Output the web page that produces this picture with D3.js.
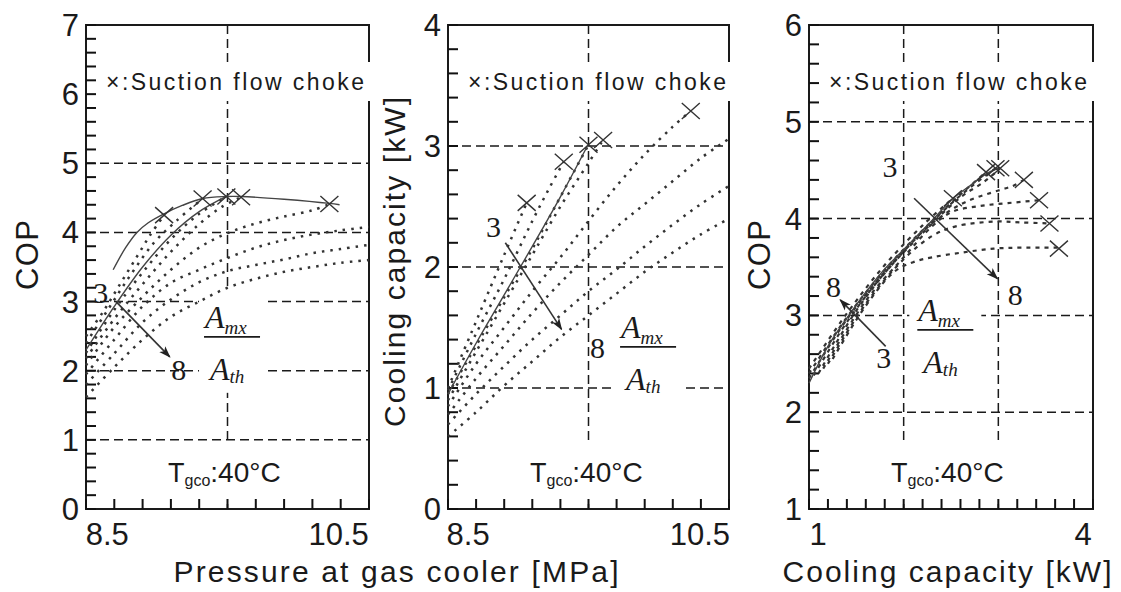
<!DOCTYPE html>
<html><head><meta charset="utf-8">
<script src="https://cdn.jsdelivr.net/npm/d3@7"></script>
<style>body{margin:0;background:#fff}</style>
</head><body><svg id="c" width="1121" height="592"></svg>
<script>
// ---------------- DATA ----------------
// Panel 1: COP vs gas-cooler pressure [MPa], eight area-ratio curves (3 -> 8)
const p1_c1 = [[8.25,2.5],[8.4,2.85],[8.55,3.25],[8.7,3.65],[8.82,3.97],[8.94,4.25]];
const p1_c2 = [[8.25,2.4],[8.45,2.9],[8.65,3.4],[8.85,3.85],[9.05,4.17],[9.28,4.49]];
const p1_c3 = [[8.25,2.26],[8.5,2.88],[8.75,3.42],[9.0,3.9],[9.25,4.27],[9.49,4.52]];
const p1_c4 = [[8.25,2.18],[8.5,2.75],[8.75,3.25],[9.0,3.72],[9.25,4.12],[9.45,4.37],[9.62,4.51]];
const p1_c5 = [[8.25,2.08],[8.5,2.63],[8.75,3.07],[9.0,3.46],[9.25,3.78],[9.5,3.99],[9.75,4.13],[10.0,4.23],[10.25,4.32],[10.4,4.41]];
const p1_c6 = [[8.25,1.95],[8.5,2.45],[8.75,2.93],[9.0,3.27],[9.25,3.46],[9.5,3.63],[9.75,3.78],[10.0,3.89],[10.25,3.97],[10.5,4.03],[10.75,4.08]];
const p1_c7 = [[8.25,1.8],[8.5,2.25],[8.75,2.7],[9.0,3.03],[9.25,3.28],[9.5,3.44],[9.75,3.53],[10.0,3.61],[10.25,3.7],[10.5,3.76],[10.75,3.82]];
const p1_c8 = [[8.25,1.62],[8.5,2.05],[8.75,2.45],[9.0,2.78],[9.25,3.0],[9.5,3.2],[9.75,3.33],[10.0,3.43],[10.25,3.5],[10.5,3.56],[10.75,3.6]];
const p1_chokeLine = [[8.49,3.46],[8.6,3.78],[8.7,4.0],[8.8,4.14],[8.94,4.27],[9.1,4.39],[9.28,4.49],[9.49,4.52],[9.62,4.52],[10.0,4.48],[10.4,4.42],[10.49,4.4]];
const p1_solid = [[8.25,2.3],[8.5,2.93],[8.75,3.5],[9.0,3.96],[9.25,4.3],[9.49,4.52]];
const p1_choke = [[8.94,4.25],[9.28,4.49],[9.49,4.52],[9.62,4.51],[10.4,4.41]];

// Panel 2: cooling capacity [kW] vs gas-cooler pressure [MPa]
const p2_c1 = [[8.25,1.0],[8.5,1.55],[8.75,2.1],[8.95,2.53]];
const p2_c2 = [[8.25,0.98],[8.5,1.45],[8.75,1.9],[9.0,2.38],[9.15,2.65],[9.28,2.87]];
const p2_c3 = [[8.25,0.95],[8.5,1.35],[8.75,1.75],[9.0,2.15],[9.25,2.58],[9.5,3.01]];
const p2_c4 = [[8.25,0.9],[8.5,1.3],[8.75,1.7],[9.0,2.1],[9.25,2.5],[9.5,2.86],[9.63,3.05]];
const p2_c5 = [[8.25,0.85],[8.5,1.2],[8.75,1.5],[9.0,1.8],[9.25,2.08],[9.5,2.38],[9.75,2.67],[10.0,2.93],[10.25,3.16],[10.41,3.29]];
const p2_c6 = [[8.25,0.78],[8.5,1.08],[8.75,1.35],[9.0,1.62],[9.25,1.87],[9.5,2.1],[9.75,2.33],[10.0,2.52],[10.25,2.71],[10.5,2.9],[10.75,3.06]];
const p2_c7 = [[8.25,0.7],[8.5,0.95],[8.75,1.18],[9.0,1.4],[9.25,1.6],[9.5,1.8],[9.75,1.98],[10.0,2.17],[10.25,2.35],[10.5,2.52],[10.75,2.67]];
const p2_c8 = [[8.25,0.6],[8.5,0.8],[8.75,1.02],[9.0,1.22],[9.25,1.42],[9.5,1.6],[9.75,1.78],[10.0,1.96],[10.25,2.12],[10.5,2.27],[10.75,2.4]];
const p2_solid = [[8.25,0.95],[8.5,1.37],[8.75,1.77],[9.0,2.17],[9.25,2.58],[9.49,3.0]];
const p2_choke = [[8.95,2.53],[9.28,2.87],[9.5,3.01],[9.63,3.05],[10.41,3.29]];

// Panel 3: COP vs cooling capacity [kW]
const p3_c1 = [[1.0,2.45],[1.4,3.02],[1.8,3.52],[2.2,3.93],[2.52,4.21]];
const p3_c2 = [[1.0,2.4],[1.4,2.98],[1.8,3.47],[2.2,3.88],[2.6,4.25],[2.87,4.48]];
const p3_c3 = [[1.0,2.35],[1.4,2.96],[1.8,3.45],[2.2,3.87],[2.6,4.24],[2.97,4.52]];
const p3_c4 = [[1.05,2.38],[1.4,2.93],[1.8,3.44],[2.2,3.85],[2.6,4.22],[2.85,4.38],[3.02,4.52]];
const p3_c5 = [[1.1,2.4],[1.5,3.05],[1.9,3.55],[2.3,3.95],[2.65,4.17],[3.0,4.29],[3.16,4.34],[3.27,4.4]];
const p3_c6 = [[1.15,2.45],[1.6,3.15],[2.0,3.6],[2.3,3.92],[2.51,4.07],[2.8,4.13],[3.1,4.16],[3.43,4.19]];
const p3_c7 = [[1.2,2.5],[1.6,3.12],[2.0,3.58],[2.3,3.82],[2.55,3.92],[2.97,3.97],[3.25,3.96],[3.54,3.95]];
const p3_c8 = [[1.25,2.55],[1.6,3.1],[1.9,3.45],[2.1,3.55],[2.3,3.6],[2.62,3.65],[2.95,3.69],[3.25,3.7],[3.64,3.7]];
const p3_envelope = [[1.0,2.3],[1.2,2.68],[1.42,3.0],[1.6,3.24],[1.8,3.48],[2.0,3.68],[2.2,3.88],[2.32,4.0],[2.5,4.19],[2.7,4.34],[2.87,4.46],[3.0,4.52]];
const p3_choke = [[2.52,4.21],[2.87,4.48],[2.97,4.52],[3.02,4.52],[3.27,4.4],[3.43,4.19],[3.54,3.95],[3.64,3.69]];

// Axis ticks / labels
const p1_xLabels = [8.5, 10.5];
const p2_xLabels = [8.5, 10.5];
const p3_xLabels = [1, 4];
const p1_yLabels = [0,1,2,3,4,5,6,7];
const p2_yLabels = [0,1,2,3,4];
const p3_yLabels = [1,2,3,4,5,6];
const p1_xGrid = [9.5], p1_yGrid = [1,2,3,4,5];
const p2_xGrid = [9.5], p2_yGrid = [1,2,3];
const p3_xGrid = [2,3], p3_yGrid = [2,3,4,5];

const legendText = "×:Suction flow choke";
const xTitle12 = "Pressure at gas cooler [MPa]";
const xTitle3 = "Cooling capacity [kW]";
const yTitle1 = "COP", yTitle2 = "Cooling capacity [kW]", yTitle3 = "COP";

// ---------------- DRAWING ----------------
const svg = d3.select("#c");
const defs = svg.append("defs");
defs.append("marker").attr("id","ah2").attr("viewBox","0 0 10 10").attr("refX",9).attr("refY",5)
  .attr("markerWidth",12).attr("markerHeight",12).attr("orient","auto").attr("markerUnits","userSpaceOnUse")
  .append("path").attr("d","M0,1.5 L10,5 L0,8.5 L2.5,5 Z").attr("fill","#222");

const ink = "#1a1a1a";
const sans = "'Liberation Sans', Arial, sans-serif";
const serif = "'Liberation Serif', 'Times New Roman', serif";

function panel(cfg) {
  const g = svg.append("g");
  const x = d3.scaleLinear().domain(cfg.xd).range([cfg.l, cfg.r]);
  const y = d3.scaleLinear().domain(cfg.yd).range([cfg.b, cfg.t]);
  const line = d3.line().x(d => x(d[0])).y(d => y(d[1])).curve(d3.curveCatmullRom.alpha(0.5));

  // dashed grid
  cfg.yGrid.forEach(v => g.append("line").attr("x1",cfg.l).attr("x2",cfg.r).attr("y1",y(v)).attr("y2",y(v))
    .attr("stroke",ink).attr("stroke-width",1.5).attr("stroke-dasharray","9,5"));
  cfg.xGrid.forEach(v => g.append("line").attr("x1",x(v)).attr("x2",x(v)).attr("y1",cfg.t).attr("y2",cfg.b)
    .attr("stroke",ink).attr("stroke-width",1.5).attr("stroke-dasharray","9,5"));
  // frame
  g.append("rect").attr("x",cfg.l).attr("y",cfg.t).attr("width",cfg.r-cfg.l).attr("height",cfg.b-cfg.t)
    .attr("fill","none").attr("stroke",ink).attr("stroke-width",2);
  // white backgrounds behind legend, area-ratio label and temperature label
  g.append("rect").attr("x",cfg.l+12).attr("y",cfg.t+37).attr("width",cfg.r-cfg.l+4).attr("height",39).attr("fill","#fff");
  g.append("rect").attr("x",x(cfg.frac[0])-cfg.fracBox[0]).attr("y",y(cfg.frac[1])-cfg.fracBox[1])
    .attr("width",cfg.fracBox[0]*2).attr("height",cfg.fracBox[1]+cfg.fracBox[2]).attr("fill","#fff");
  g.append("rect").attr("x",cfg.l+70).attr("y",cfg.b-65).attr("width",140).attr("height",60).attr("fill","#fff");

  // inward ticks from the scales
  const xt = d3.range(cfg.xd[0], cfg.xd[1]+1e-9, cfg.xStep);
  const yt = d3.range(cfg.yd[0], cfg.yd[1]+1e-9, 0.2);
  xt.forEach(d => g.append("line").attr("x1",x(d)).attr("x2",x(d)).attr("y1",cfg.b).attr("y2",cfg.b-10)
    .attr("stroke","#111").attr("stroke-width",2));
  yt.forEach(d => g.append("line").attr("x1",cfg.l).attr("x2",cfg.l+10).attr("y1",y(d)).attr("y2",y(d))
    .attr("stroke","#111").attr("stroke-width",2));

  cfg.xLabels.forEach((v,i) => g.append("text").attr("x",x(v)+cfg.xLabDx[i]).attr("y",cfg.b+36)
    .attr("text-anchor","middle").attr("font-family",sans).attr("font-size",31).attr("fill",ink).text(v));
  cfg.yLabels.forEach(v => g.append("text").attr("x",cfg.l-7).attr("y",y(v)+11)
    .attr("text-anchor","end").attr("font-family",sans).attr("font-size",31).attr("fill",ink).text(v));

  // dotted curves
  cfg.curves.forEach(c => g.append("path").attr("d",line(c)).attr("fill","none").attr("stroke","#333")
    .attr("stroke-width",cfg.dotW).attr("stroke-dasharray",cfg.dash));
  // solid curves
  cfg.solids.forEach(c => g.append("path").attr("d",line(c)).attr("fill","none").attr("stroke","#444").attr("stroke-width",1.4));
  // suction flow choke markers
  cfg.choke.forEach(p => {
    const cx = x(p[0]), cy = y(p[1]);
    g.append("path").attr("d",`M${cx-9},${cy-8}L${cx+9},${cy+8}M${cx-9},${cy+8}L${cx+9},${cy-8}`)
      .attr("stroke","#333").attr("stroke-width",1.4).attr("fill","none");
  });
  // arrows and ratio numbers
  cfg.arrows.forEach(a => g.append("line").attr("x1",x(a[0][0])).attr("y1",y(a[0][1])).attr("x2",x(a[1][0])).attr("y2",y(a[1][1]))
    .attr("stroke","#333").attr("stroke-width",1.6).attr("marker-end","url(#ah2)"));
  cfg.nums.forEach(n => g.append("text").attr("x",x(n[0])).attr("y",y(n[1])).attr("text-anchor","middle")
    .attr("font-family",serif).attr("font-size",30).attr("fill",ink).text(n[2]));

  // legend
  g.append("text").attr("x",cfg.l+20).attr("y",cfg.t+65).attr("font-family",sans).attr("font-size",23)
    .attr("fill",ink).attr("textLength",258).attr("lengthAdjust","spacing").text(legendText);

  // A_mx / A_th
  const fx = x(cfg.frac[0]), fy = y(cfg.frac[1]);
  g.append("line").attr("x1",fx-28).attr("x2",fx+28).attr("y1",fy).attr("y2",fy).attr("stroke",ink).attr("stroke-width",1.6);
  const t1 = g.append("text").attr("x",fx-27).attr("y",fy-9).attr("font-family",serif).attr("font-style","italic").attr("fill",ink);
  t1.append("tspan").attr("font-size",32).text("A");
  t1.append("tspan").attr("font-size",19).attr("dy",6).text("mx");
  const t2 = g.append("text").attr("x",fx-22).attr("y",fy+43).attr("font-family",serif).attr("font-style","italic").attr("fill",ink);
  t2.append("tspan").attr("font-size",32).text("A");
  t2.append("tspan").attr("font-size",19).attr("dy",3).text("th");

  // T_gco:40°C
  const tt = g.append("text").attr("x",cfg.l+82).attr("y",cfg.b-27).attr("font-family",sans).attr("fill",ink);
  tt.append("tspan").attr("font-size",27).text("T");
  tt.append("tspan").attr("font-size",16).attr("dy",4).text("gco");
  tt.append("tspan").attr("font-size",28).attr("dy",-4).text(":40°C");
  return {x,y};
}

panel({l:86, r:369, t:25, b:509, xd:[8.25,10.75], yd:[0,7], xStep:0.25,
  xGrid:p1_xGrid, yGrid:p1_yGrid, xLabels:p1_xLabels, xLabDx:[-7,-2], yLabels:p1_yLabels,
  curves:[p1_c1,p1_c2,p1_c3,p1_c4,p1_c5,p1_c6,p1_c7,p1_c8], solids:[p1_chokeLine,p1_solid], choke:p1_choke,
  dotW:2.5, dash:"2.5,6",
  arrows:[[[8.515,3.0],[8.99,2.2]]], nums:[[8.38,2.98,"3"],[9.07,1.86,"8"]],
  frac:[9.54,2.49], fracBox:[33,47,56]});

panel({l:448, r:729, t:25, b:509, xd:[8.25,10.75], yd:[0,4], xStep:0.25,
  xGrid:p2_xGrid, yGrid:p2_yGrid, xLabels:p2_xLabels, xLabDx:[-8,-1], yLabels:p2_yLabels,
  curves:[p2_c1,p2_c2,p2_c3,p2_c4,p2_c5,p2_c6,p2_c7,p2_c8], solids:[p2_solid], choke:p2_choke,
  dotW:2.5, dash:"2.5,6",
  arrows:[[[8.76,2.2],[9.26,1.485]]], nums:[[8.655,2.25,"3"],[9.58,1.25,"8"]],
  frac:[10.03,1.34], fracBox:[34,37,53]});

panel({l:809, r:1093, t:25, b:509, xd:[1,4], yd:[1,6], xStep:0.2,
  xGrid:p3_xGrid, yGrid:p3_yGrid, xLabels:p3_xLabels, xLabDx:[9,-10], yLabels:p3_yLabels,
  curves:[p3_c1,p3_c2,p3_c3,p3_c4,p3_c5,p3_c6,p3_c7,p3_c8], solids:[p3_envelope], choke:p3_choke,
  dotW:2.2, dash:"4,5",
  arrows:[[[2.11,4.21],[2.99,3.38]],[[1.81,2.68],[1.33,3.16]]],
  nums:[[1.855,4.43,"3"],[3.18,3.11,"8"],[1.26,3.19,"8"],[1.79,2.46,"3"]],
  frac:[2.44,2.85], fracBox:[36,30,55]});

// axis titles
svg.append("text").attr("x",396).attr("y",582).attr("text-anchor","middle").attr("font-family",sans)
  .attr("font-size",30).attr("fill",ink).attr("textLength",445).attr("lengthAdjust","spacing").text(xTitle12);
svg.append("text").attr("x",947).attr("y",582).attr("text-anchor","middle").attr("font-family",sans)
  .attr("font-size",30).attr("fill",ink).attr("textLength",329).attr("lengthAdjust","spacing").text(xTitle3);
svg.append("text").attr("transform","translate(38,255) rotate(-90)").attr("text-anchor","middle").attr("font-family",sans)
  .attr("font-size",31).attr("fill",ink).attr("textLength",70).attr("lengthAdjust","spacing").text(yTitle1);
svg.append("text").attr("transform","translate(405,262) rotate(-90)").attr("text-anchor","middle").attr("font-family",sans)
  .attr("font-size",30).attr("fill",ink).attr("textLength",330).attr("lengthAdjust","spacing").text(yTitle2);
svg.append("text").attr("transform","translate(770,255) rotate(-90)").attr("text-anchor","middle").attr("font-family",sans)
  .attr("font-size",31).attr("fill",ink).attr("textLength",70).attr("lengthAdjust","spacing").text(yTitle3);
</script></body></html>
